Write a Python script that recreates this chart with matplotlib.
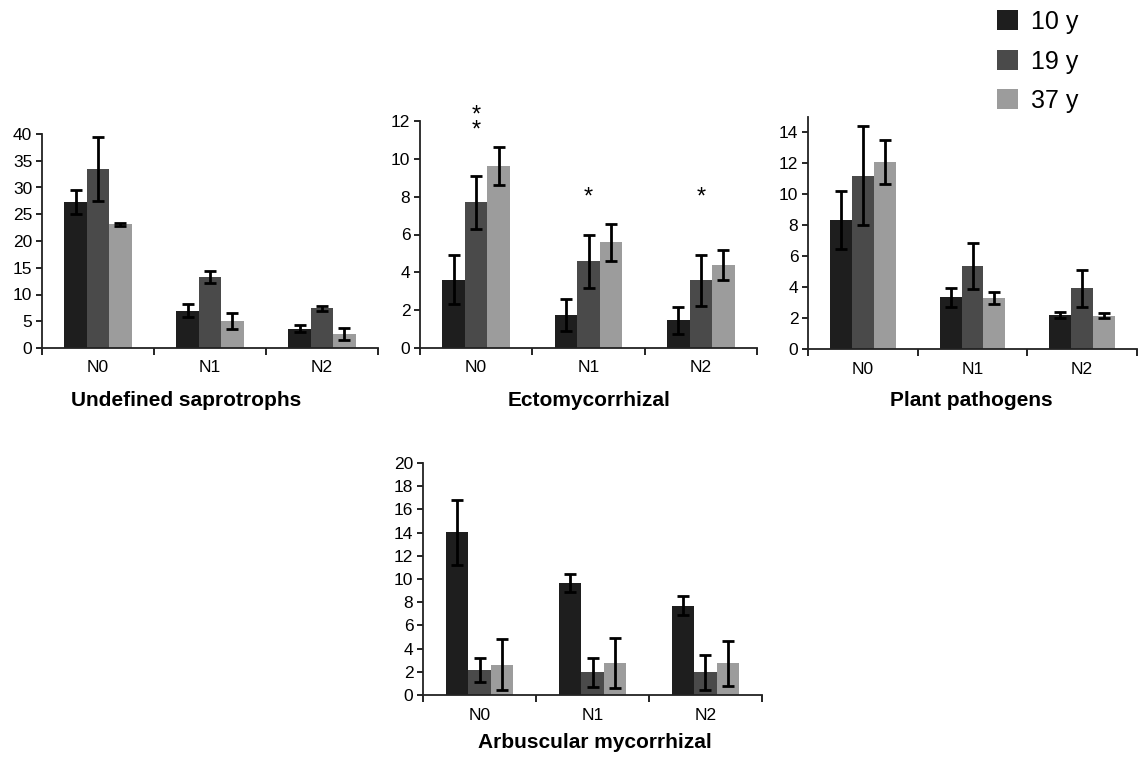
import matplotlib
matplotlib.use("Agg")
import matplotlib.pyplot as plt
import numpy as np

plt.rcParams['font.family'] = ['Liberation Sans', 'DejaVu Sans']

categories = ["N0", "N1", "N2"]
series = ["10 y", "19 y", "37 y"]
colors = ["#1e1e1e", "#4a4a4a", "#9c9c9c"]

# Undefined saprotrophs
sap_vals = [[27.3, 7.0, 3.6], [33.4, 13.2, 7.4], [23.1, 5.1, 2.6]]
sap_err = [[2.3, 1.2, 0.7], [6.0, 1.1, 0.5], [0.3, 1.5, 1.1]]
# Ectomycorrhizal
ecto_vals = [[3.6, 1.76, 1.46], [7.7, 4.58, 3.57], [9.63, 5.58, 4.37]]
ecto_err = [[1.3, 0.85, 0.7], [1.4, 1.4, 1.35], [1.0, 1.0, 0.8]]
# Plant pathogens
path_vals = [[8.34, 3.33, 2.2], [11.2, 5.38, 3.94], [12.1, 3.29, 2.15]]
path_err = [[1.9, 0.6, 0.2], [3.2, 1.5, 1.2], [1.4, 0.4, 0.17]]
# Arbuscular mycorrhizal
arb_vals = [[14.04, 9.64, 7.71], [2.16, 1.96, 1.96], [2.59, 2.73, 2.73]]
arb_err = [[2.8, 0.8, 0.84], [1.06, 1.26, 1.5], [2.2, 2.15, 1.96]]

# significance markers (category index, label, y)
ecto_marks = [(0, "*\n*", 11.89), (1, "*", 7.95), (2, "*", 7.95)]

W, H = 1139, 757
fig = plt.figure(figsize=(W / 100, H / 100), dpi=100)


def make_ax(px_left, px_right, px_bottom, px_top):
    return fig.add_axes([px_left / W, 1 - px_bottom / H,
                         (px_right - px_left) / W, (px_bottom - px_top) / H])


def draw(ax, vals, errs, ymax, ytop, ystep):
    x = np.arange(len(categories))
    w = 0.2
    for i in range(3):
        ax.bar(x + (i - 1) * w, vals[i], width=w, color=colors[i],
               edgecolor='none', label=series[i], zorder=2)
        ax.errorbar(x + (i - 1) * w, vals[i], yerr=errs[i], fmt='none',
                    ecolor='black', elinewidth=2, capsize=4, capthick=2, zorder=3)
    ax.set_xlim(-0.5, len(categories) - 0.5)
    ax.set_ylim(0, ytop)
    ax.set_yticks(np.arange(0, ymax + 0.01, ystep))
    ax.set_xticks(x)
    ax.set_xticklabels(categories, fontsize=12.5)
    ax.set_xticks(np.arange(-0.5, len(categories), 1.0), minor=True)
    ax.tick_params(axis='x', which='major', length=0, pad=9)
    ax.tick_params(axis='x', which='minor', length=5, width=1.2, direction='out')
    ax.tick_params(axis='y', length=4, width=1.2, direction='out', labelsize=12.5, pad=3)
    for s in ['top', 'right']:
        ax.spines[s].set_visible(False)
    for s in ['left', 'bottom']:
        ax.spines[s].set_linewidth(1.3)
        ax.spines[s].set_color('#222222')


ax1 = make_ax(42, 378, 348, 134)
draw(ax1, sap_vals, sap_err, 40, 40, 5)

ax2 = make_ax(420, 757, 348, 121)
draw(ax2, ecto_vals, ecto_err, 12, 12, 2)
for ci, lab, yy in ecto_marks:
    ax2.text(ci, yy, lab, ha='center', va='center', fontsize=17,
             linespacing=0.55, clip_on=False)

ax3 = make_ax(808, 1137, 349, 117)
draw(ax3, path_vals, path_err, 14, 15, 2)

ax4 = make_ax(423, 762, 695, 463)
draw(ax4, arb_vals, arb_err, 20, 20, 2)

title_kw = dict(ha='center', va='center', fontsize=15, fontweight='bold')
fig.text(186 / W, 1 - 401 / H, "Undefined saprotrophs", **title_kw)
fig.text(589 / W, 1 - 401 / H, "Ectomycorrhizal", **title_kw)
fig.text(971 / W, 1 - 401 / H, "Plant pathogens", **title_kw)
fig.text(595 / W, 1 - 743 / H, "Arbuscular mycorrhizal", **title_kw)

handles, labels = ax1.get_legend_handles_labels()
fig.legend(handles, labels, loc='upper left', bbox_to_anchor=(997 / W, 1 - 10 / H),
           frameon=False, fontsize=18, handlelength=0.85, handleheight=0.85,
           handletextpad=0.5, labelspacing=0.62, borderpad=0, borderaxespad=0)

fig.savefig("out.png", dpi=100, facecolor='white')
